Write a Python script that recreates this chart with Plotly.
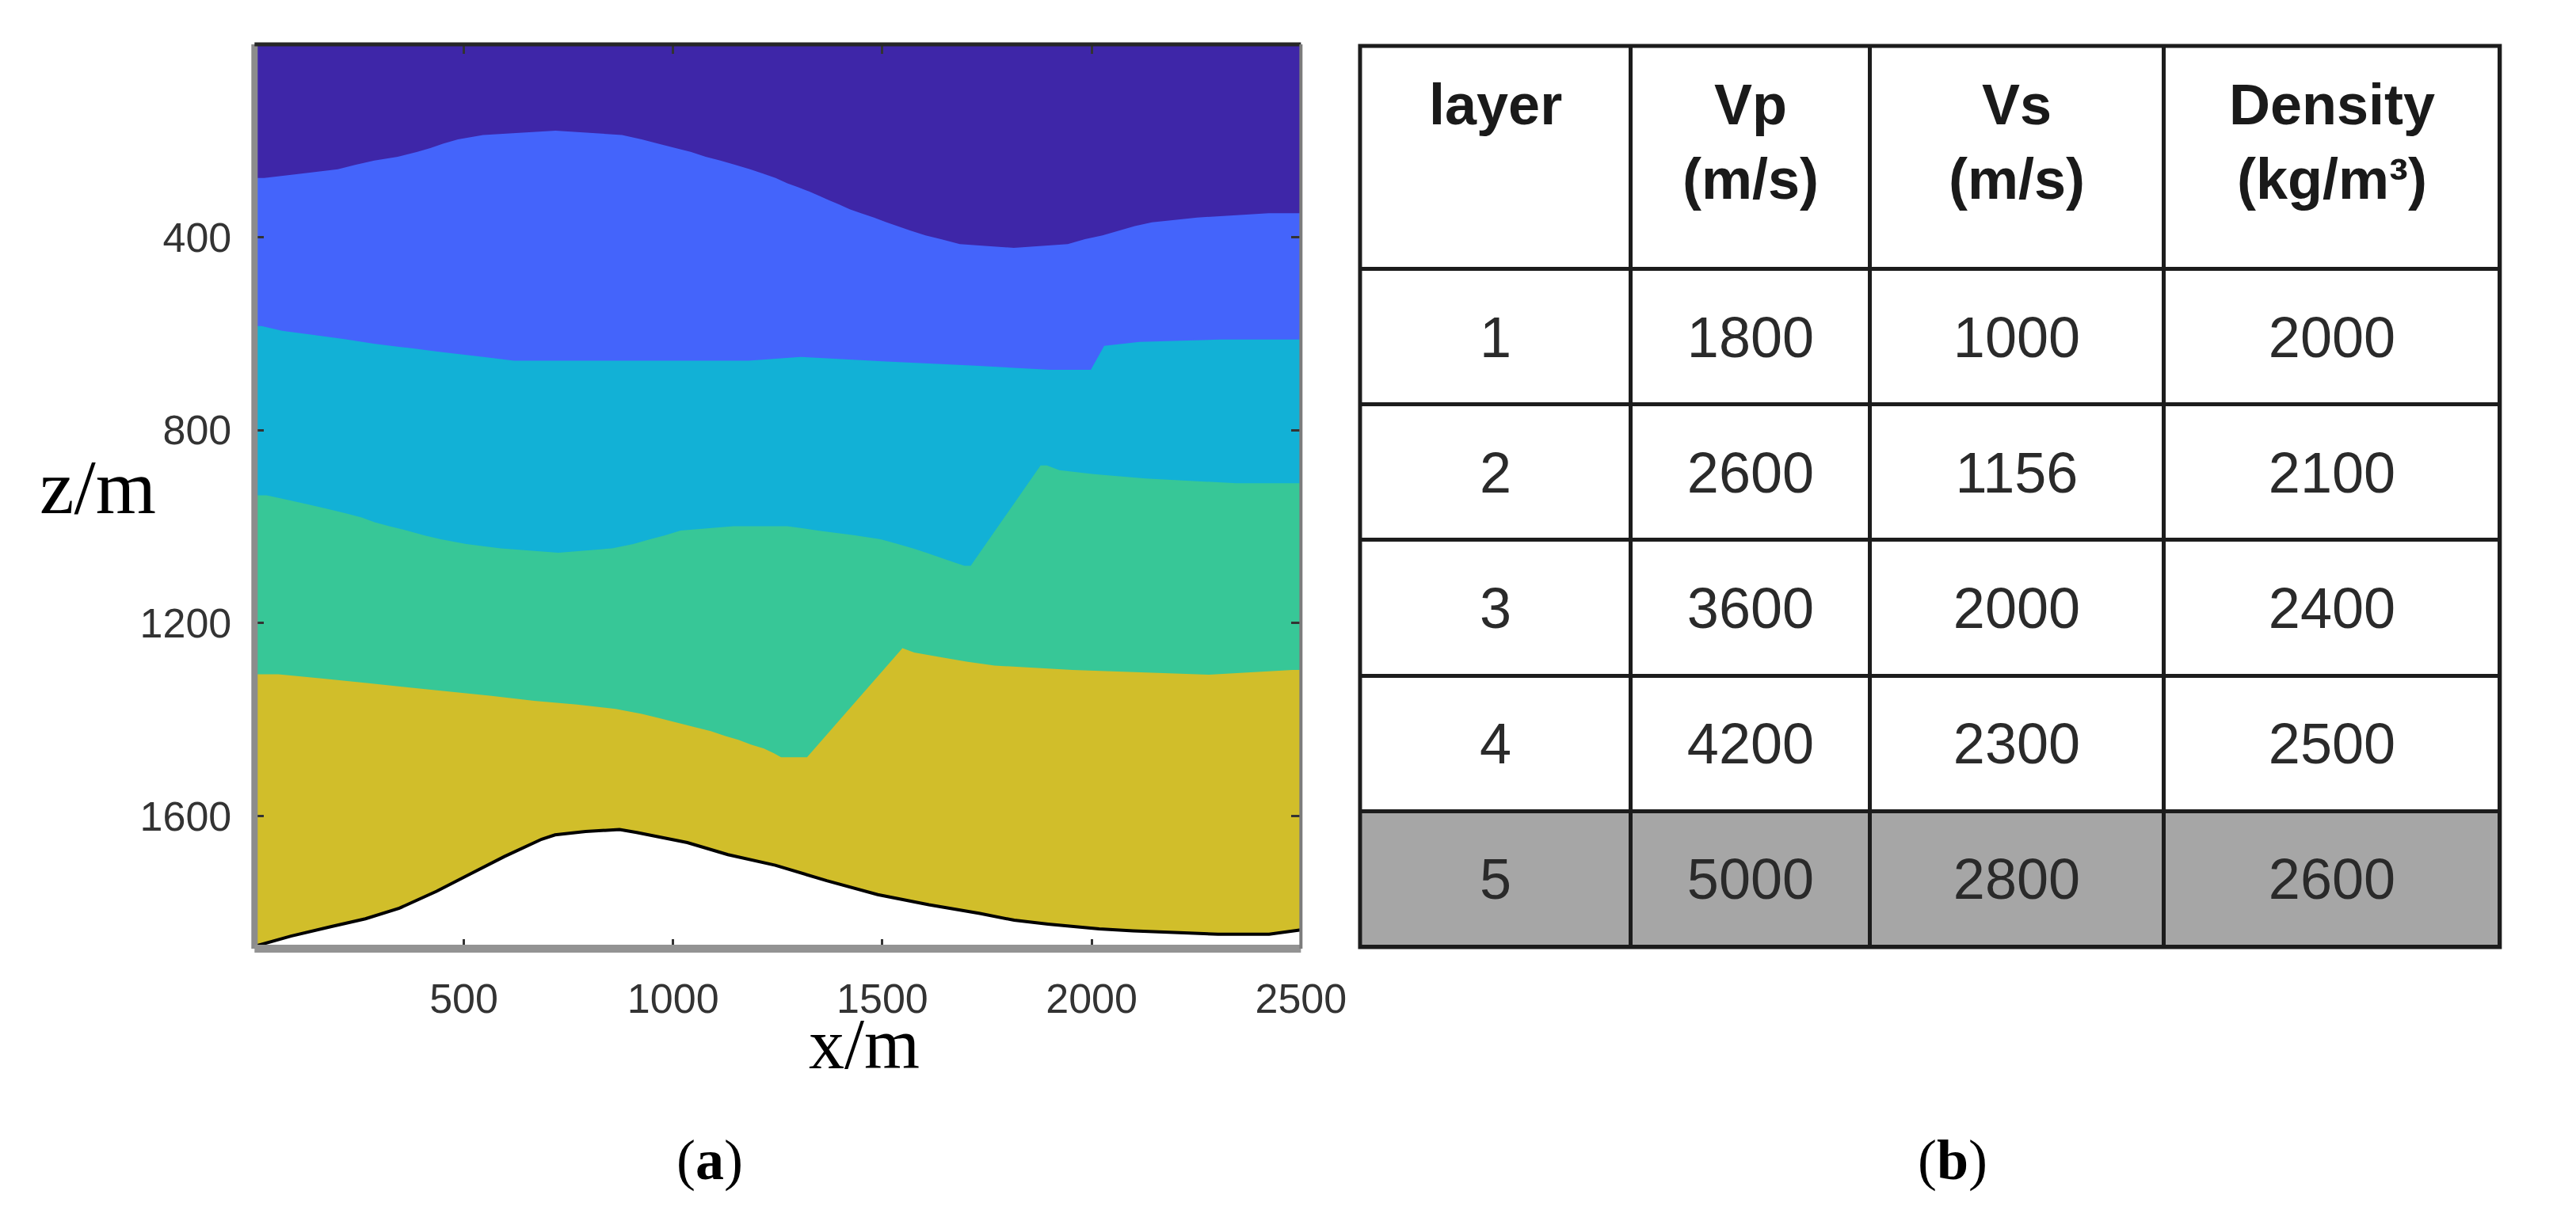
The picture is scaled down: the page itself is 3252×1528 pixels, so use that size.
import plotly.graph_objects as go

W, H = 3252, 1528

# model extent (m)
x_max = 2500
z_max = 1875

# interface depths, top to bottom
b1_x = [0, 23, 112, 199, 240, 286, 342, 389, 420, 450, 486, 546, 719, 878, 925, 965, 1006, 1042, 1078, 1113,
        1149, 1184, 1215, 1245, 1273, 1298, 1325, 1351, 1372, 1397, 1422, 1449, 1480, 1510, 1536, 1566, 1603, 1640,
        1685, 1814, 1943, 1984, 2026, 2067, 2103, 2144, 2252, 2423, 2500]
b1_z = [277, 277, 268, 259, 250, 241, 233, 223, 215, 206, 197, 188, 179, 188, 197, 206, 215, 223, 233, 241,
        250, 259, 268, 277, 288, 296, 305, 315, 323, 332, 342, 350, 359, 369, 377, 386, 396, 404,
        414, 422, 414, 404, 396, 386, 377, 369, 359, 350, 350]

b2_x = [0, 17, 66, 138, 215, 288, 364, 445, 547, 620, 1180, 1304, 1500, 1721, 1902, 1998, 2030, 2072, 2114, 2307, 2500]
b2_z = [584, 584, 594, 602, 611, 621, 629, 638, 648, 656, 656, 648, 657, 666, 675, 675, 625, 621, 617, 612, 612]

b3_x = [0, 29, 77, 128, 179, 220, 256, 287, 322, 364, 405, 445, 506, 588, 726, 854, 905, 945, 981, 1018,
        1144, 1273, 1346, 1434, 1496, 1537, 1573, 1605, 1635, 1665, 1696, 1711, 1878, 1893, 1923, 2005, 2129, 2346, 2500]
b3_z = [935, 935, 944, 954, 964, 973, 981, 991, 999, 1008, 1018, 1026, 1036, 1045, 1054, 1045, 1036, 1026, 1018, 1008,
        999, 999, 1008, 1018, 1026, 1036, 1045, 1054, 1063, 1072, 1081, 1081, 873, 873, 883, 891, 900, 910, 910]

b4_x = [0, 57, 165, 268, 366, 464, 566, 668, 771, 863, 925, 966, 1007, 1048, 1090, 1125, 1156, 1186, 1217, 1241,
        1258, 1320, 1548, 1576, 1635, 1701, 1768, 1954, 2280, 2480, 2500]
b4_z = [1306, 1306, 1315, 1324, 1333, 1342, 1351, 1361, 1369, 1378, 1388, 1397, 1406, 1415, 1424, 1434, 1442, 1452, 1460, 1470,
        1478, 1478, 1252, 1261, 1270, 1280, 1288, 1297, 1307, 1297, 1297]

b5_x = [0, 87, 184, 265, 346, 435, 516, 597, 686, 718, 791, 872, 913, 1034, 1131, 1244, 1367, 1489, 1611, 1733,
        1815, 1896, 2018, 2099, 2221, 2302, 2424, 2500]
b5_z = [1870, 1849, 1829, 1813, 1791, 1756, 1720, 1684, 1648, 1639, 1632, 1628, 1634, 1655, 1680, 1702, 1734, 1763, 1784, 1802,
        1816, 1824, 1834, 1838, 1842, 1845, 1845, 1836]

layer_colors = ["#3e26a8", "#4464fb", "#12b1d6", "#37c797", "#d1be2a"]

# table (b)
header = ["layer", "Vp<br>(m/s)", "Vs<br>(m/s)", "Density<br>(kg/m³)"]
layer = [1, 2, 3, 4, 5]
vp = [1800, 2600, 3600, 4200, 5000]
vs = [1000, 1156, 2000, 2300, 2800]
density = [2000, 2100, 2400, 2500, 2600]
shaded_row = 5

col_widths = [348, 308, 377, 432]
header_h = 282
row_h = 171.2

fig = go.Figure()

# paint layers top-down, each one filled to the bottom of the model
tops = [([0, x_max], [0, 0]), (b1_x, b1_z), (b2_x, b2_z), (b3_x, b3_z), (b4_x, b4_z)]
for (tx, tz), col in zip(tops, layer_colors):
    fig.add_trace(go.Scatter(x=list(tx) + [x_max, 0], y=list(tz) + [z_max, z_max], fill="toself",
                             fillcolor=col, mode="none", hoverinfo="skip", showlegend=False))
fig.add_trace(go.Scatter(x=b5_x + [x_max, 0], y=b5_z + [z_max, z_max], fill="toself",
                         fillcolor="white", mode="none", hoverinfo="skip", showlegend=False))
fig.add_trace(go.Scatter(x=b5_x, y=b5_z, mode="lines", line=dict(color="black", width=4),
                         hoverinfo="skip", showlegend=False))

# table as a heatmap: cell gaps show the dark background as grid lines
x_edges = [0]
for w in col_widths:
    x_edges.append(x_edges[-1] + w)
y_edges = [0, header_h]
for _ in layer:
    y_edges.append(y_edges[-1] + row_h)

fill = [[0] * 4] + [[1 if l == shaded_row else 0] * 4 for l in layer]
txt = [[""] * 4]
for i in range(len(layer)):
    txt.append([str(layer[i]), str(vp[i]), str(vs[i]), str(density[i])])

fig.add_trace(go.Heatmap(x=x_edges, y=y_edges, z=fill, text=txt, texttemplate="%{text}",
                         textfont=dict(family="Liberation Sans", size=72, color="#2a2a2a"),
                         colorscale=[[0, "white"], [1, "#a6a6a6"]], zmin=0, zmax=1, showscale=False,
                         xgap=5, ygap=5, hoverinfo="skip", xaxis="x2", yaxis="y2"))

# header text sits near the top of its cell
for j, h in enumerate(header):
    fig.add_annotation(text="<b>" + h.replace("<br>", "</b><br><b>") + "</b>",
                       x=(x_edges[j] + x_edges[j + 1]) / 2, y=32, xref="x2", yref="y2",
                       xanchor="center", yanchor="top", showarrow=False,
                       font=dict(family="Liberation Sans", size=72, color="#1a1a1a"))

tickfont = dict(family="Liberation Sans", size=52, color="#333333")
axis_common = dict(ticks="inside", ticklen=12, tickwidth=3, tickcolor="#333333", mirror="ticks",
                   showgrid=False, zeroline=False, showline=False, tickfont=tickfont, ticklabelstandoff=28)

fig.update_layout(
    width=W, height=H, margin=dict(l=0, r=0, t=0, b=0),
    paper_bgcolor="white", plot_bgcolor="#1c1c1c",
    xaxis=dict(domain=[319 / W, 1664 / W], range=[0, x_max], tickvals=[500, 1000, 1500, 2000, 2500],
               anchor="y", **axis_common),
    yaxis=dict(domain=[1 - 1190 / H, 1 - 48 / H], range=[z_max, 0], tickvals=[400, 800, 1200, 1600],
               anchor="x", **axis_common),
    xaxis2=dict(domain=[1740 / W, 3205 / W], range=[0, x_edges[-1]], visible=False, anchor="y2"),
    yaxis2=dict(domain=[1 - 1188 / H, 1 - 50 / H], range=[y_edges[-1], 0], visible=False, anchor="x2"),
)

# frame of panel (a)
frame = [
    (0, 0, 0, 1, "#8c8c8c", 8),
    (0, 0, 1, 0, "#939393", 10),
    (0, 1, 1, 1, "#262626", 5),
    (1, 0, 1, 1, "#7c7c7c", 4),
]
for x0, y0, x1, y1, c, w in frame:
    fig.add_shape(type="line", xref="x domain", yref="y domain", x0=x0, y0=y0, x1=x1, y1=y1,
                  line=dict(color=c, width=w), layer="above")
fig.add_shape(type="rect", xref="x2 domain", yref="y2 domain", x0=0, y0=0, x1=1, y1=1,
              line=dict(color="#1c1c1c", width=5), layer="above")

serif = "Liberation Serif"
labels = [
    ("z/m", 118, 607, 98),
    ("x/m", 1103, 1310, 90),
    ("(<b>a</b>)", 904, 1457, 72),
    ("(<b>b</b>)", 2502, 1457, 72),
]
for t, px, py, size in labels:
    fig.add_annotation(text=t, x=px / W, y=1 - py / H, xref="paper", yref="paper", showarrow=False,
                       xanchor="center", yanchor="middle", font=dict(family=serif, size=size, color="black"))

fig.write_html("out.html")
